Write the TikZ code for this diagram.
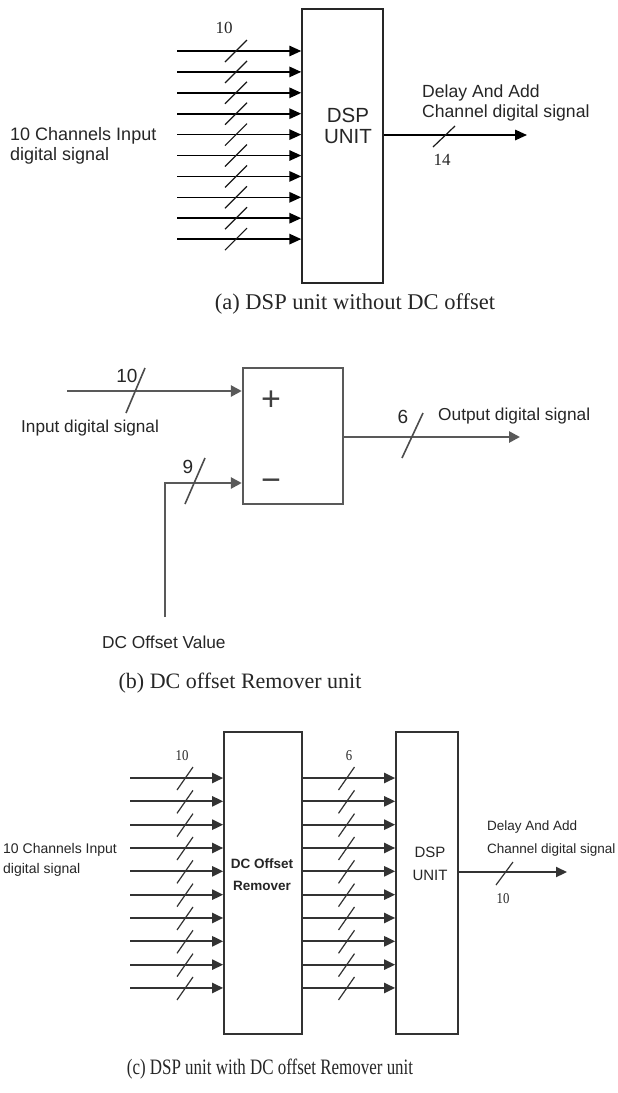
\documentclass[tikz,border=0pt]{standalone}
\usepackage{fontspec}
\setmainfont{Liberation Serif}
\setsansfont{Liberation Sans}
\usetikzlibrary{arrows.meta}
\newcommand\fsz[1]{\fontsize{#1}{#1}\selectfont}
\begin{document}
\begin{tikzpicture}[x=1pt,y=-1pt,
  boxA/.style={draw=black!85, line width=1.5pt, inner sep=0pt},
  boxB/.style={draw=black!65, line width=2.4pt, inner sep=0pt},
  boxC/.style={draw=black!80, line width=1.6pt, inner sep=0pt},
  arrA/.style={draw=black, line width=1.6pt, -{Triangle[length=12pt,width=10.5pt]}},
  arrB/.style={draw=black!65, line width=2.6pt, -{Triangle[length=11pt,width=11pt]}, line join=miter},
  arrC/.style={draw=black!80, line width=2.2pt, -{Triangle[length=11pt,width=10pt]}},
  slA/.style={draw=black!90, line width=1.2pt},
  slB/.style={draw=black!70, line width=1.6pt},
  slC/.style={draw=black!80, line width=1.2pt},
  txt/.style={inner sep=0pt, text=black!85},
  capt/.style={inner sep=0pt, text=black!85, font=\rmfamily\fsz{22.5}}
]
\useasboundingbox (0,0) rectangle (618,1093);
\fill[white] (0,0) rectangle (618,1093);

% ---------------- panel (a) ----------------
\node[boxA, minimum width=81pt, minimum height=274pt] (dspA) at (342.5,146) {};
\foreach \i in {0,...,9}{
  \coordinate (ain\i) at (177,{51+20.9*\i});
  \coordinate (sa\i) at (236,{51+20.9*\i});
  \draw[arrA] (ain\i) -- (ain\i -| dspA.west);
  \draw[slA] ([shift={(-11,11)}]sa\i) -- ([shift={(11,-11)}]sa\i);
}
\node[txt, font=\rmfamily\fsz{17}, anchor=base] (nA10) at (224,33) {10};
\node[txt, font=\sffamily\fsz{18}, anchor=base west] (tA1) at (10,140) {10 Channels Input};
\node[txt, font=\sffamily\fsz{18}, anchor=base west] (tA2) at (10,160) {digital signal};
\node[txt, font=\sffamily\fsz{20.5}, anchor=base] (tA3) at (348,122) {DSP};
\node[txt, font=\sffamily\fsz{20.5}, anchor=base] (tA4) at (348,143) {UNIT};
\coordinate (aout) at (527,135);
\draw[arrA] (dspA.east |- aout) -- (aout);
\coordinate (saout) at (444,136.5);
\draw[slA] ([shift={(-11,10.5)}]saout) -- ([shift={(11,-10.5)}]saout);
\node[txt, font=\sffamily\fsz{17.6}, anchor=base west] (tA5) at (422,97) {Delay And Add};
\node[txt, font=\sffamily\fsz{17.6}, anchor=base west] (tA6) at (422,117) {Channel digital signal};
\node[txt, font=\rmfamily\fsz{17}, anchor=base] (nA14) at (442,165) {14};
\node[capt, anchor=base] (capA) at (355,309) {(a) DSP unit without DC offset};

% ---------------- panel (b) ----------------
\node[boxB, minimum width=100pt, minimum height=136pt] (sub) at (293,436) {};
\node[txt, font=\sffamily\fsz{34}, text=black!75] (plus) at (271,401) {+};
\node[txt, font=\sffamily\fsz{34}, text=black!75] (minus) at (271,485) {−};
\coordinate (binp) at (67,391);
\draw[arrB] (binp) -- (binp -| sub.west);
\coordinate (sbin) at (135.5,390.5);
\draw[slB] ([shift={(-9.5,22.5)}]sbin) -- ([shift={(9.5,-22.5)}]sbin);
\coordinate (dcv) at (165,617);
\coordinate (dcc) at (165,483);
\draw[arrB] (dcv) -- (dcc) -- (dcc -| sub.west);
\coordinate (sdc) at (195,481);
\draw[slB] ([shift={(-10,23)}]sdc) -- ([shift={(10,-23)}]sdc);
\coordinate (bout) at (520,437);
\draw[arrB] (sub.east |- bout) -- (bout);
\coordinate (sbout) at (412.5,435.5);
\draw[slB] ([shift={(-10.5,22.5)}]sbout) -- ([shift={(10.5,-22.5)}]sbout);
\node[txt, font=\sffamily\fsz{19}, anchor=base] (nB10) at (127,382) {10};
\node[txt, font=\sffamily\fsz{17.2}, anchor=base west] (tB1) at (21,432) {Input digital signal};
\node[txt, font=\sffamily\fsz{19}, anchor=base] (nB9) at (188,473) {9};
\node[txt, font=\sffamily\fsz{17.3}, anchor=base west] (tB2) at (102,648) {DC Offset Value};
\node[txt, font=\sffamily\fsz{19}, anchor=base] (nB6) at (403,423) {6};
\node[txt, font=\sffamily\fsz{17.3}, anchor=base west] (tB3) at (438,420) {Output digital signal};
\node[capt, font=\rmfamily\fsz{22}, anchor=base] (capB) at (240,688) {(b) DC offset Remover unit};

% ---------------- panel (c) ----------------
\node[boxC, minimum width=78pt, minimum height=302pt] (dcr) at (263,883) {};
\node[boxC, minimum width=62pt, minimum height=302pt] (dspC) at (427,883) {};
\foreach \i in {0,...,9}{
  \coordinate (cin\i) at (130,{778+23.33*\i});
  \coordinate (sc\i) at (185,{778.5+23.33*\i});
  \coordinate (sm\i) at (346.5,{778.5+23.33*\i});
  \draw[arrC] (cin\i) -- (cin\i -| dcr.west);
  \draw[arrC] (cin\i -| dcr.east) -- (cin\i -| dspC.west);
  \draw[slC] ([shift={(-8,11.5)}]sc\i) -- ([shift={(8,-11.5)}]sc\i);
  \draw[slC] ([shift={(-8,11.5)}]sm\i) -- ([shift={(8,-11.5)}]sm\i);
}
\coordinate (cout) at (567,872);
\draw[arrC] (dspC.east |- cout) -- (cout);
\coordinate (scout) at (504.5,873.5);
\draw[slC] ([shift={(-8.5,11.5)}]scout) -- ([shift={(8.5,-11.5)}]scout);
\node[txt, font=\rmfamily\fsz{15}, anchor=base] (nC10) at (182,760) {\scalebox{0.85}[1]{10}};
\node[txt, font=\rmfamily\fsz{15}, anchor=base] (nC6) at (349,760) {\scalebox{0.85}[1]{6}};
\node[txt, font=\sffamily\fsz{14}, anchor=base west] (tC1) at (3,853) {10 Channels Input};
\node[txt, font=\sffamily\fsz{14}, anchor=base west] (tC2) at (3,873) {digital signal};
\node[txt, font=\sffamily\bfseries\fsz{13.5}, anchor=base] (tC3) at (262,868) {DC Offset};
\node[txt, font=\sffamily\bfseries\fsz{13.5}, anchor=base] (tC4) at (262,890) {Remover};
\node[txt, font=\sffamily\fsz{15}, anchor=base] (tC5) at (430,857) {DSP};
\node[txt, font=\sffamily\fsz{15}, anchor=base] (tC6) at (430,880) {UNIT};
\node[txt, font=\sffamily\fsz{13.5}, anchor=base west] (tC7) at (487,830) {Delay And Add};
\node[txt, font=\sffamily\fsz{13.5}, anchor=base west] (tC8) at (487,853) {Channel digital signal};
\node[txt, font=\rmfamily\fsz{15}, anchor=base] (nC10b) at (503,903) {\scalebox{0.85}[1]{10}};
\node[capt, font=\rmfamily\fsz{22}, anchor=base] (capC) at (270,1074) {\scalebox{0.77}[1]{(c) DSP unit with DC offset Remover unit}};
\end{tikzpicture}
\end{document}
